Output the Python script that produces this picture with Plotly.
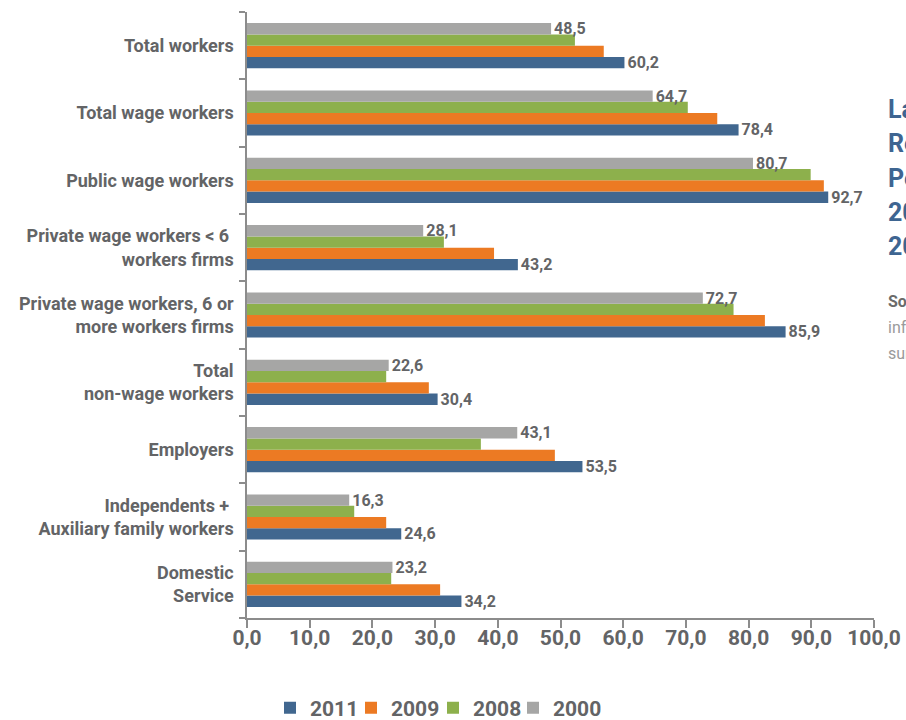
import plotly.graph_objects as go

# Categories, listed top to bottom as they read on the chart
categories = [
    "Total workers",
    "Total wage workers",
    "Public wage workers",
    "Private wage workers < 6 <br>workers firms",
    "Private wage workers, 6 or<br>more workers firms",
    "Total<br>non-wage workers",
    "Employers",
    "Independents + <br>Auxiliary family workers",
    "Domestic<br>Service",
]

# Percentages per year
v2011 = [60.2, 78.4, 92.7, 43.2, 85.9, 30.4, 53.5, 24.6, 34.2]
v2009 = [56.9, 75.0, 92.0, 39.4, 82.6, 29.0, 49.1, 22.2, 30.8]
v2008 = [52.3, 70.3, 89.9, 31.4, 77.6, 22.2, 37.3, 17.1, 23.0]
v2000 = [48.5, 64.7, 80.7, 28.1, 72.7, 22.6, 43.1, 16.3, 23.2]

x_ticks = [0, 10, 20, 30, 40, 50, 60, 70, 80, 90, 100]

# Side panel text (runs off the right edge of the page)
side_title = ["Labour", "Registration", "Percentage", "2000-", "2011"]
side_note = ["Source:", "information", "survey"]

COL_2011 = "#41678f"
COL_2009 = "#ec7a23"
COL_2008 = "#8db04c"
COL_2000 = "#a6a6a5"
TXT = "#636466"
AX = "#8c8c8c"
FONT = "Roboto, sans-serif"

W, H = 906, 720
L, R, T, B = 247, 32, 12, 102
pw, ph = W - L - R, H - T - B

def px_x(p):
    return (p - L) / pw

def px_y(p):
    return (H - B - p) / ph

# (name, values, colour, value labels shown, legend id, legend left edge in px)
series = [
    ("2011", v2011, COL_2011, True, "legend", 270),
    ("2009", v2009, COL_2009, False, "legend2", 351),
    ("2008", v2008, COL_2008, False, "legend3", 433),
    ("2000", v2000, COL_2000, True, "legend4", 513),
]

fig = go.Figure()
legend_layout = {}
for name, vals, col, labelled, leg, leg_x in series:
    fig.add_trace(go.Bar(
        name=name,
        y=categories,
        x=vals,
        orientation="h",
        marker=dict(color=col, line=dict(width=0)),
        texttemplate="%{x:.1f}" if labelled else None,
        textposition="outside" if labelled else "none",
        textfont=dict(family=FONT, size=16, color=TXT, weight=700),
        constraintext="none",
        cliponaxis=False,
        hoverinfo="x+name",
        legend=leg,
    ))
    legend_layout[leg] = dict(
        orientation="h", x=px_x(leg_x), xanchor="left", y=px_y(708), yanchor="middle",
        font=dict(family=FONT, size=21, color=TXT, weight=700),
        itemwidth=30, bgcolor="rgba(0,0,0,0)",
    )

annotations = []
for i, line in enumerate(side_title):
    annotations.append(dict(
        text=line, xref="paper", yref="paper",
        x=px_x(886), y=px_y(110 + i * 34), xanchor="left", yanchor="middle",
        showarrow=False, font=dict(family=FONT, size=25, color="#3e6591", weight=700),
    ))
for i, line in enumerate(side_note):
    annotations.append(dict(
        text=line, xref="paper", yref="paper",
        x=px_x(886), y=px_y(301 + i * 26), xanchor="left", yanchor="middle",
        showarrow=False,
        font=dict(family=FONT, size=16,
                  color="#6b6b6b" if i == 0 else "#9a9a9a",
                  weight=700 if i == 0 else 400),
    ))

fig.update_layout(
    template="none",
    width=W, height=H,
    margin=dict(l=L, r=R, t=T, b=B, autoexpand=False),
    paper_bgcolor="white", plot_bgcolor="white",
    barmode="group", bargap=0.33, bargroupgap=0,
    separators=",.",
    font=dict(family=FONT, color=TXT),
    showlegend=True,
    annotations=annotations,
    xaxis=dict(
        range=[0, 100], tickvals=x_ticks, tickformat=".1f",
        showgrid=False, zeroline=False, automargin=False,
        showline=True, linecolor=AX, linewidth=2,
        ticks="outside", ticklen=8, tickcolor=AX, tickwidth=1.5,
        tickfont=dict(family=FONT, size=21, color=TXT, weight=700),
        ticklabelstandoff=-8,
    ),
    yaxis=dict(
        type="category", categoryorder="array", categoryarray=categories[::-1],
        showgrid=False, zeroline=False, automargin=False,
        showline=True, linecolor=AX, linewidth=1.5,
        ticks="outside", ticklen=6, tickcolor=AX, tickwidth=1.5, tickson="boundaries",
        tickfont=dict(family=FONT, size=18, color=TXT, weight=700),
        ticklabelstandoff=8,
    ),
    **legend_layout,
)

fig.write_html("out.html")
